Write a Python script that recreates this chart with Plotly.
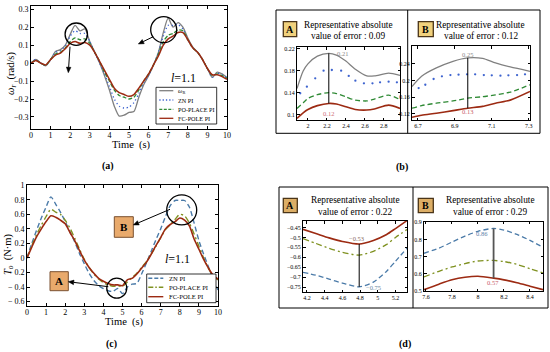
import math
import plotly.graph_objects as go

W, H = 550, 352
SERIF = "Liberation Serif"

# ---------------- data ----------------
T = [0, 0.25, 0.5, 0.75, 1, 1.25, 1.5, 1.75, 2, 2.25, 2.5, 2.75, 3, 3.25, 3.5, 3.75,
     4, 4.25, 4.5, 4.75, 5, 5.25, 5.5, 5.75, 6, 6.25, 6.5, 6.75, 7, 7.25, 7.5, 7.75,
     8, 8.25, 8.5, 8.75, 9, 9.25, 9.5, 9.75, 10]

# (a) angular speed
a_ref = [0.0, 0.02, 0.0, -0.015, 0.02, 0.065, 0.075, 0.1, 0.16, 0.21, 0.18, 0.19, 0.12, 0.06,
         0.0, -0.07, -0.15, -0.24, -0.295, -0.29, -0.275, -0.27, -0.19, -0.12, -0.07, -0.01,
         0.06, 0.17, 0.25, 0.2, 0.225, 0.2, 0.14, 0.09, 0.06, 0.02, -0.03, -0.08, -0.05, -0.06, -0.08]
a_zn = [0.0, 0.02, 0.0, -0.015, 0.02, 0.06, 0.07, 0.095, 0.15, 0.18, 0.165, 0.165, 0.12, 0.06,
        0.0, -0.06, -0.13, -0.2, -0.24, -0.25, -0.245, -0.22, -0.17, -0.11, -0.07, -0.01,
        0.06, 0.15, 0.21, 0.21, 0.215, 0.19, 0.13, 0.085, 0.06, 0.02, -0.03, -0.08, -0.055, -0.065, -0.08]
a_po = [0.0, 0.015, 0.0, -0.012, 0.02, 0.05, 0.06, 0.085, 0.12, 0.14, 0.13, 0.135, 0.11, 0.06,
        0.01, -0.05, -0.1, -0.15, -0.18, -0.19, -0.2, -0.19, -0.15, -0.1, -0.06, -0.01,
        0.05, 0.12, 0.155, 0.165, 0.185, 0.18, 0.13, 0.085, 0.06, 0.02, -0.03, -0.07, -0.06, -0.07, -0.085]
a_fc = [0.0, 0.015, 0.0, -0.01, 0.02, 0.045, 0.055, 0.08, 0.11, 0.12, 0.11, 0.115, 0.1, 0.06,
        0.01, -0.04, -0.09, -0.14, -0.165, -0.175, -0.185, -0.175, -0.14, -0.1, -0.06, -0.01,
        0.04, 0.1, 0.135, 0.15, 0.17, 0.17, 0.13, 0.085, 0.06, 0.02, -0.03, -0.065, -0.065, -0.075, -0.09]

# (c) torque
c_zn = [0.0, 0.2, 0.38, 0.55, 0.7, 0.84, 0.74, 0.63, 0.5, 0.36, 0.22, 0.06, -0.08, -0.21, -0.31,
        -0.38, -0.42, -0.45, -0.46, -0.42, -0.49, -0.4, -0.36, -0.35, -0.22, -0.07, 0.09, 0.25,
        0.4, 0.57, 0.72, 0.79, 0.79, 0.79, 0.7, 0.48, 0.24, 0.05, -0.12, -0.3, -0.44]
c_po = [0.0, 0.17, 0.32, 0.45, 0.57, 0.67, 0.63, 0.6, 0.52, 0.41, 0.27, 0.12, -0.02, -0.13, -0.22,
        -0.29, -0.34, -0.37, -0.39, -0.38, -0.39, -0.33, -0.27, -0.21, -0.13, -0.05, 0.05, 0.16,
        0.28, 0.39, 0.46, 0.53, 0.6, 0.58, 0.48, 0.33, 0.16, 0.0, -0.14, -0.25, -0.3]
c_fc = [0.0, 0.15, 0.29, 0.4, 0.5, 0.58, 0.56, 0.52, 0.47, 0.35, 0.24, 0.1, -0.03, -0.13, -0.21,
        -0.28, -0.32, -0.35, -0.37, -0.37, -0.38, -0.3, -0.28, -0.22, -0.14, -0.06, 0.05, 0.17,
        0.28, 0.4, 0.46, 0.5, 0.55, 0.52, 0.44, 0.26, 0.12, -0.02, -0.14, -0.24, -0.29]

# (b) zoom A
bA_x = [1.885, 1.95, 2.0, 2.1, 2.22, 2.3, 2.4, 2.5, 2.62, 2.7, 2.85, 2.97]
bA_ref = [0.148, 0.18, 0.193, 0.207, 0.212, 0.209, 0.198, 0.183, 0.171, 0.171, 0.176, 0.172]
bA_po = [0.112, 0.122, 0.13, 0.137, 0.1406, 0.139, 0.133, 0.127, 0.1255, 0.129, 0.136, 0.128]
bA_fc = [0.094, 0.104, 0.11, 0.117, 0.121, 0.12, 0.115, 0.11, 0.109, 0.111, 0.118, 0.112]
bA_zn_x = [1.919, 1.989, 2.077, 2.165, 2.252, 2.35, 2.43, 2.5, 2.59, 2.68, 2.76, 2.85, 2.937]
bA_zn = [0.1395, 0.1515, 0.1667, 0.1806, 0.1818, 0.1806, 0.171, 0.1624, 0.1576, 0.1576, 0.1594, 0.1606, 0.1594]
bA_mark = [2.22, 0.121, 0.212]

# (b) zoom B
bB_x = [6.668, 6.72, 6.8, 6.89, 6.97, 7.05, 7.12, 7.2, 7.307]
bB_ref = [0.1855, 0.21, 0.2297, 0.2455, 0.2537, 0.2525, 0.2416, 0.232, 0.2216]
bB_po = [0.1337, 0.14, 0.1457, 0.151, 0.1577, 0.161, 0.1656, 0.172, 0.1896]
bB_fc = [0.112, 0.117, 0.1217, 0.128, 0.1337, 0.138, 0.1457, 0.153, 0.1736]
bB_zn_x = [6.704, 6.74, 6.785, 6.83, 6.876, 6.92, 6.966, 7.01, 7.057, 7.1, 7.147, 7.19, 7.237, 7.28]
bB_zn = [0.1816, 0.1896, 0.2033, 0.2096, 0.2128, 0.2136, 0.2144, 0.2144, 0.2128, 0.212, 0.2112, 0.212, 0.2128, 0.2144]
bB_mark = [6.97, 0.1337, 0.2537]

# (d) zoom A
dA_x = [4.155, 4.3, 4.45, 4.6, 4.79, 4.95, 5.1, 5.2, 5.33]
dA_fc = [-0.459, -0.48, -0.502, -0.52, -0.533, -0.515, -0.485, -0.455, -0.415]
dA_po = [-0.506, -0.53, -0.555, -0.575, -0.589, -0.57, -0.535, -0.5, -0.46]
dA_zn = [-0.676, -0.69, -0.71, -0.73, -0.749, -0.725, -0.67, -0.62, -0.554]
dA_mark = [4.79, -0.749, -0.533]

# (d) zoom B
dB_x = [7.585, 7.7, 7.8, 7.9, 8.0, 8.12, 8.2, 8.3, 8.4, 8.5]
dB_zn = [0.72, 0.75, 0.785, 0.82, 0.848, 0.865, 0.855, 0.83, 0.795, 0.755]
dB_po = [0.582, 0.615, 0.64, 0.66, 0.675, 0.678, 0.672, 0.655, 0.63, 0.605]
dB_fc = [0.508, 0.54, 0.565, 0.58, 0.586, 0.575, 0.565, 0.548, 0.528, 0.508]
dB_mark = [8.12, 0.575, 0.865]

# ---------------- styles ----------------
GRAY = "#808080"
BLUE_A = "#3d63cf"
GREEN_A = "#2f8a35"
RED = "#9c2a12"
BLUE_C = "#4a7aa8"
OLIVE = "#7f9120"


def PX(x):
    return x / W


def PY(y):
    return 1 - y / H


fig = go.Figure()


def add_line(x, y, ax, color, width=1.3, dash="solid", smooth=0.7):
    fig.add_trace(go.Scatter(
        x=x, y=y, xaxis="x" + ax, yaxis="y" + ax, mode="lines",
        line=dict(color=color, width=width, dash=dash, shape="spline", smoothing=smooth),
        showlegend=False, hoverinfo="skip"))


def add_dots(x, y, ax, color):
    fig.add_trace(go.Scatter(
        x=x, y=y, xaxis="x" + ax, yaxis="y" + ax, mode="markers",
        marker=dict(color=color, size=2.3, symbol="circle", line=dict(width=0)),
        showlegend=False, hoverinfo="skip"))


# (a)
add_line(T, a_ref, "", GRAY, 1.3)
add_line(T, a_zn, "", BLUE_A, 1.3, "1.3px,2.6px")
add_line(T, a_po, "", GREEN_A, 1.3, "4px,2px")
add_line(T, a_fc, "", RED, 1.5)
# (b)
add_line(bA_x, bA_ref, "2", GRAY, 1.3)
add_dots(bA_zn_x, bA_zn, "2", BLUE_A)
add_line(bA_x, bA_po, "2", GREEN_A, 1.3, "5px,3px")
add_line(bA_x, bA_fc, "2", RED, 1.6)
add_line(bB_x, bB_ref, "3", GRAY, 1.3)
add_dots(bB_zn_x, bB_zn, "3", BLUE_A)
add_line(bB_x, bB_po, "3", GREEN_A, 1.3, "5px,3px")
add_line(bB_x, bB_fc, "3", RED, 1.6)
# (c)
add_line(T, c_zn, "4", BLUE_C, 1.4, "5px,3px")
add_line(T, c_po, "4", OLIVE, 1.4, "6px,3px,2px,3px")
add_line(T, c_fc, "4", RED, 1.6)
# (d)
add_line(dA_x, dA_zn, "5", BLUE_C, 1.3, "5px,3px")
add_line(dA_x, dA_po, "5", OLIVE, 1.3, "6px,3px,2px,3px")
add_line(dA_x, dA_fc, "5", RED, 1.6)
add_line(dB_x, dB_zn, "6", BLUE_C, 1.3, "5px,3px")
add_line(dB_x, dB_po, "6", OLIVE, 1.3, "6px,3px,2px,3px")
add_line(dB_x, dB_fc, "6", RED, 1.6)

# ---------------- axes ----------------
layout_axes = {}


def axes(n, xpx, ypx, xr, yr, xtv, ytv, xtt=None, ytt=None, fs=8, tl=3, xso=0):
    sx = "" if n == 1 else str(n)
    common = dict(showline=True, linecolor="black", linewidth=1, mirror="ticks",
                  ticks="inside", ticklen=tl, tickwidth=0.8, tickcolor="black",
                  showgrid=False, zeroline=False, automargin=False, fixedrange=True,
                  tickfont=dict(family=SERIF, size=fs, color="black"))
    layout_axes["xaxis" + sx] = dict(common, domain=[PX(xpx[0]), PX(xpx[1])], range=xr,
                                     anchor="y" + sx, tickmode="array", tickvals=xtv,
                                     ticklabelstandoff=xso,
                                     ticktext=xtt if xtt else [str(v) for v in xtv])
    layout_axes["yaxis" + sx] = dict(common, domain=[PY(ypx[1]), PY(ypx[0])], range=yr,
                                     anchor="x" + sx, tickmode="array", tickvals=ytv,
                                     ticktext=ytt if ytt else [str(v).replace("-", "\u2212") for v in ytv])


a_xt = [0, 1, 2, 3, 4, 5, 6, 7, 8, 9, 10]
axes(1, (31, 227), (6, 129), [0, 10], [-0.367, 0.318], a_xt,
     [-0.3, -0.2, -0.1, 0, 0.1, 0.2, 0.3], fs=8, xso=-2)
axes(2, (297, 400), (47, 120), [1.885, 2.97], [0.0909, 0.2236], [2, 2.2, 2.4, 2.6, 2.8],
     [0.1, 0.14, 0.18, 0.22], fs=6, tl=2.5)
axes(3, (412, 530), (46, 120), [6.668, 7.307], [0.1056, 0.282], [6.7, 6.9, 7.1, 7.3],
     [0.12, 0.16, 0.2, 0.24], fs=6, tl=2.5)
axes(4, (27, 218), (185, 306), [0, 10], [-0.66, 1.003], a_xt,
     [-0.6, -0.4, -0.2, 0, 0.2, 0.4, 0.6, 0.8, 1],
     ytt=["\u2212 0.6", "\u2212 0.4", "\u2212 0.2", "0", "0.2", "0.4", "0.6", "0.8", "1"], fs=8, xso=-2)
axes(5, (303, 407), (221, 292), [4.155, 5.33], [-0.775, -0.417], [4.2, 4.4, 4.6, 4.8, 5, 5.2],
     [-0.75, -0.7, -0.65, -0.6, -0.55, -0.5, -0.45], fs=6, tl=2.5)
axes(6, (424, 543), (221.7, 291), [7.585, 8.5], [0.5, 0.904], [7.6, 7.8, 8, 8.2, 8.4],
     [0.5, 0.6, 0.7, 0.8, 0.9], fs=6, tl=2.5)

# ---------------- shapes ----------------
shapes = []


def rect_px(x0, y0, x1, y1, color="black", width=1, fill="rgba(0,0,0,0)"):
    shapes.append(dict(type="rect", xref="paper", yref="paper", x0=PX(x0), x1=PX(x1),
                       y0=PY(y1), y1=PY(y0), line=dict(color=color, width=width), fillcolor=fill))


def line_px(x0, y0, x1, y1, color="black", width=1, dash="solid"):
    shapes.append(dict(type="line", xref="paper", yref="paper", x0=PX(x0), x1=PX(x1),
                       y0=PY(y0), y1=PY(y1), line=dict(color=color, width=width, dash=dash)))


def arrow_px(hx, hy, tx, ty, L=5.5, Wd=2.3):
    d = math.hypot(hx - tx, hy - ty)
    ux, uy = (hx - tx) / d, (hy - ty) / d
    bx, by = hx - L * ux, hy - L * uy
    line_px(tx, ty, bx, by, width=1)
    p1 = (bx - Wd * uy, by + Wd * ux)
    p2 = (bx + Wd * uy, by - Wd * ux)
    path = "M {:.5f},{:.5f} L {:.5f},{:.5f} L {:.5f},{:.5f} Z".format(
        PX(hx), PY(hy), PX(p1[0]), PY(p1[1]), PX(p2[0]), PY(p2[1]))
    shapes.append(dict(type="path", xref="paper", yref="paper", path=path,
                       fillcolor="black", line=dict(color="black", width=0.5)))


def circle(ax, cx, cy, r, width=1.3):
    shapes.append(dict(type="circle", xref="x" + ax, yref="y" + ax, xsizemode="pixel",
                       ysizemode="pixel", xanchor=cx, yanchor=cy, x0=-r, x1=r, y0=-r, y1=r,
                       line=dict(color="black", width=width)))


def vmark(ax, m, color="black", width=1):
    shapes.append(dict(type="line", xref="x" + ax, yref="y" + ax, x0=m[0], x1=m[0],
                       y0=m[1], y1=m[2], line=dict(color=color, width=width)))


# outer frames (b), (d)
rect_px(276, 10, 540, 133.3)
line_px(407.7, 10, 407.7, 133.3)
rect_px(279, 187, 548, 308)
line_px(413, 187, 413, 308)

# magnification circles
circle("", 2.31, 0.161, 11.2)
circle("", 6.77, 0.186, 13)
circle("4", 4.7, -0.415, 10)
circle("4", 8.1, 0.66, 15)

# markers of absolute error
vmark("2", bA_mark)
vmark("3", bB_mark)
vmark("5", dA_mark)
vmark("6", dB_mark, color="#555555", width=1.8)

# label boxes
rect_px(283.3, 21.7, 296.7, 36.7, color="#4a3418", width=1.3, fill="#f1d17c")
rect_px(418.3, 21.7, 433.3, 36.7, color="#4a3418", width=1.3, fill="#f1d17c")
rect_px(283.3, 198.3, 297.3, 212.7, color="#4a3418", width=1.3, fill="#dcae66")
rect_px(418.3, 198.3, 433.3, 212.7, color="#4a3418", width=1.3, fill="#dcae66")
rect_px(114.3, 216.7, 133.3, 237.3, color="#7a5030", width=1, fill="#e9aa6c")
rect_px(50, 271.7, 68.3, 290.7, color="#7a5030", width=1, fill="#e9aa6c")

# custom legend (a)
rect_px(156, 87.3, 216.7, 124, width=0.8, fill="white")
leg_a = [("<i>\u03c9</i><sub>R</sub>", GRAY, "solid", 90.7), ("ZN PI", BLUE_A, "1.3px,2px", 100),
         ("PO-PLACE PI", GREEN_A, "3px,1.5px", 109.3), ("FC-POLE PI", RED, "solid", 118.3)]
for _, col, ds, yy in leg_a:
    line_px(159.3, yy, 173.3, yy, color=col, width=1.3, dash=ds)
# custom legend (c)
rect_px(146.7, 274, 216, 302.7, width=0.8, fill="white")
leg_c = [("ZN PI", BLUE_C, "4px,2px", 278.3), ("PO-PLACE PI", OLIVE, "5px,2px,1.5px,2px", 287.3),
         ("FC-POLE PI", RED, "solid", 296.7)]
for _, col, ds, yy in leg_c:
    line_px(148.3, yy, 163.3, yy, color=col, width=1.4, dash=ds)

# arrows
arrow_px(68.3, 72.7, 70, 46.7)
arrow_px(138.3, 44, 153.3, 36.7)
arrow_px(133.3, 225, 170, 209.3)
arrow_px(68.3, 281.7, 108.3, 286.7)

# ---------------- annotations ----------------
ann = []


def text_px(x, y, s, size=9, color="black", xanchor="center", angle=0, bold=False):
    if bold:
        s = "<b>" + s + "</b>"
    ann.append(dict(xref="paper", yref="paper", x=PX(x), y=PY(y), text=s, showarrow=False,
                    xanchor=xanchor, yanchor="middle", textangle=angle,
                    font=dict(family=SERIF, size=size, color=color)))


def text_data(ax, x, y, s, size=6.5, color="black", xanchor="center"):
    ann.append(dict(xref="x" + ax, yref="y" + ax, x=x, y=y, text=s, showarrow=False,
                    xanchor=xanchor, yanchor="middle", font=dict(family=SERIF, size=size, color=color)))


for s, _, _, yy in leg_a:
    text_px(176, yy, s, size=6.2, xanchor="left")
for s, _, _, yy in leg_c:
    text_px(166.7, yy, s, size=6.6, xanchor="left")

text_px(183, 78.3, "<i>l</i>=1.1", size=12)
text_px(177.5, 259.3, "<i>l</i>=1.1", size=12)

# axis titles
text_px(131, 145, "Time  (s)", size=10.5)
text_px(124, 322, "Time  (s)", size=10.5)
text_px(11, 74, "<i>\u03c9</i><sub><i>r</i></sub>  (rad/s)", size=10.5, angle=-90)
text_px(8, 254, "<i>T</i><sub><i>o</i></sub>  (N\u00b7m)", size=10.5, angle=-90)

# panel labels
text_px(108, 166, "(a)", size=10, bold=True)
text_px(402, 166.5, "(b)", size=10, bold=True)
text_px(111.5, 343.5, "(c)", size=10, bold=True)
text_px(405, 344, "(d)", size=10, bold=True)

# titles of zoom panels
text_px(348.3, 25, "Representative absolute", size=9.3)
text_px(348.3, 36, "value of error : 0.09", size=9.3)
text_px(480.8, 25, "Representative absolute", size=9.3)
text_px(480.8, 36, "value of error : 0.12", size=9.3)
text_px(355, 200, "Representative absolute", size=9.3)
text_px(355, 211.5, "value of error : 0.22", size=9.3)
text_px(490, 200, "Representative absolute", size=9.3)
text_px(490, 211.5, "value of error : 0.29", size=9.3)

# box letters
text_px(290, 29.2, "A", size=10, bold=True)
text_px(425.8, 29.2, "B", size=10, bold=True)
text_px(290.3, 205.5, "A", size=10, bold=True)
text_px(425.8, 205.5, "B", size=10, bold=True)
text_px(123.8, 227, "B", size=11, bold=True)
text_px(59.2, 281.2, "A", size=11, bold=True)

# value labels in zoom panels
text_data("2", 2.29, 0.212, "0.21", color="#8a8a8a", xanchor="left")
text_data("2", 2.22, 0.103, "0.12", color="#d0707a")
text_data("3", 6.97, 0.262, "0.25", color="#8a8a8a")
text_data("3", 6.97, 0.125, "0.13", color="#c8606a")
text_data("5", 4.76, -0.507, "\u22120.53", color="#8a6a60")
text_data("5", 4.84, -0.752, "\u22120.75", color="#6a8aa0", xanchor="left")
text_data("6", 8.03, 0.836, "0.86", color="#5a80a8")
text_data("6", 8.115, 0.547, "0.57", color="#c8606a")

fig.update_layout(
    width=W, height=H, margin=dict(l=0, r=0, t=0, b=0),
    paper_bgcolor="white", plot_bgcolor="white", showlegend=False,
    shapes=shapes, annotations=ann, **layout_axes)

fig.write_html("out.html", config={"displayModeBar": False},
               post_script="document.body.style.margin='0px';document.body.style.overflow='hidden';")
